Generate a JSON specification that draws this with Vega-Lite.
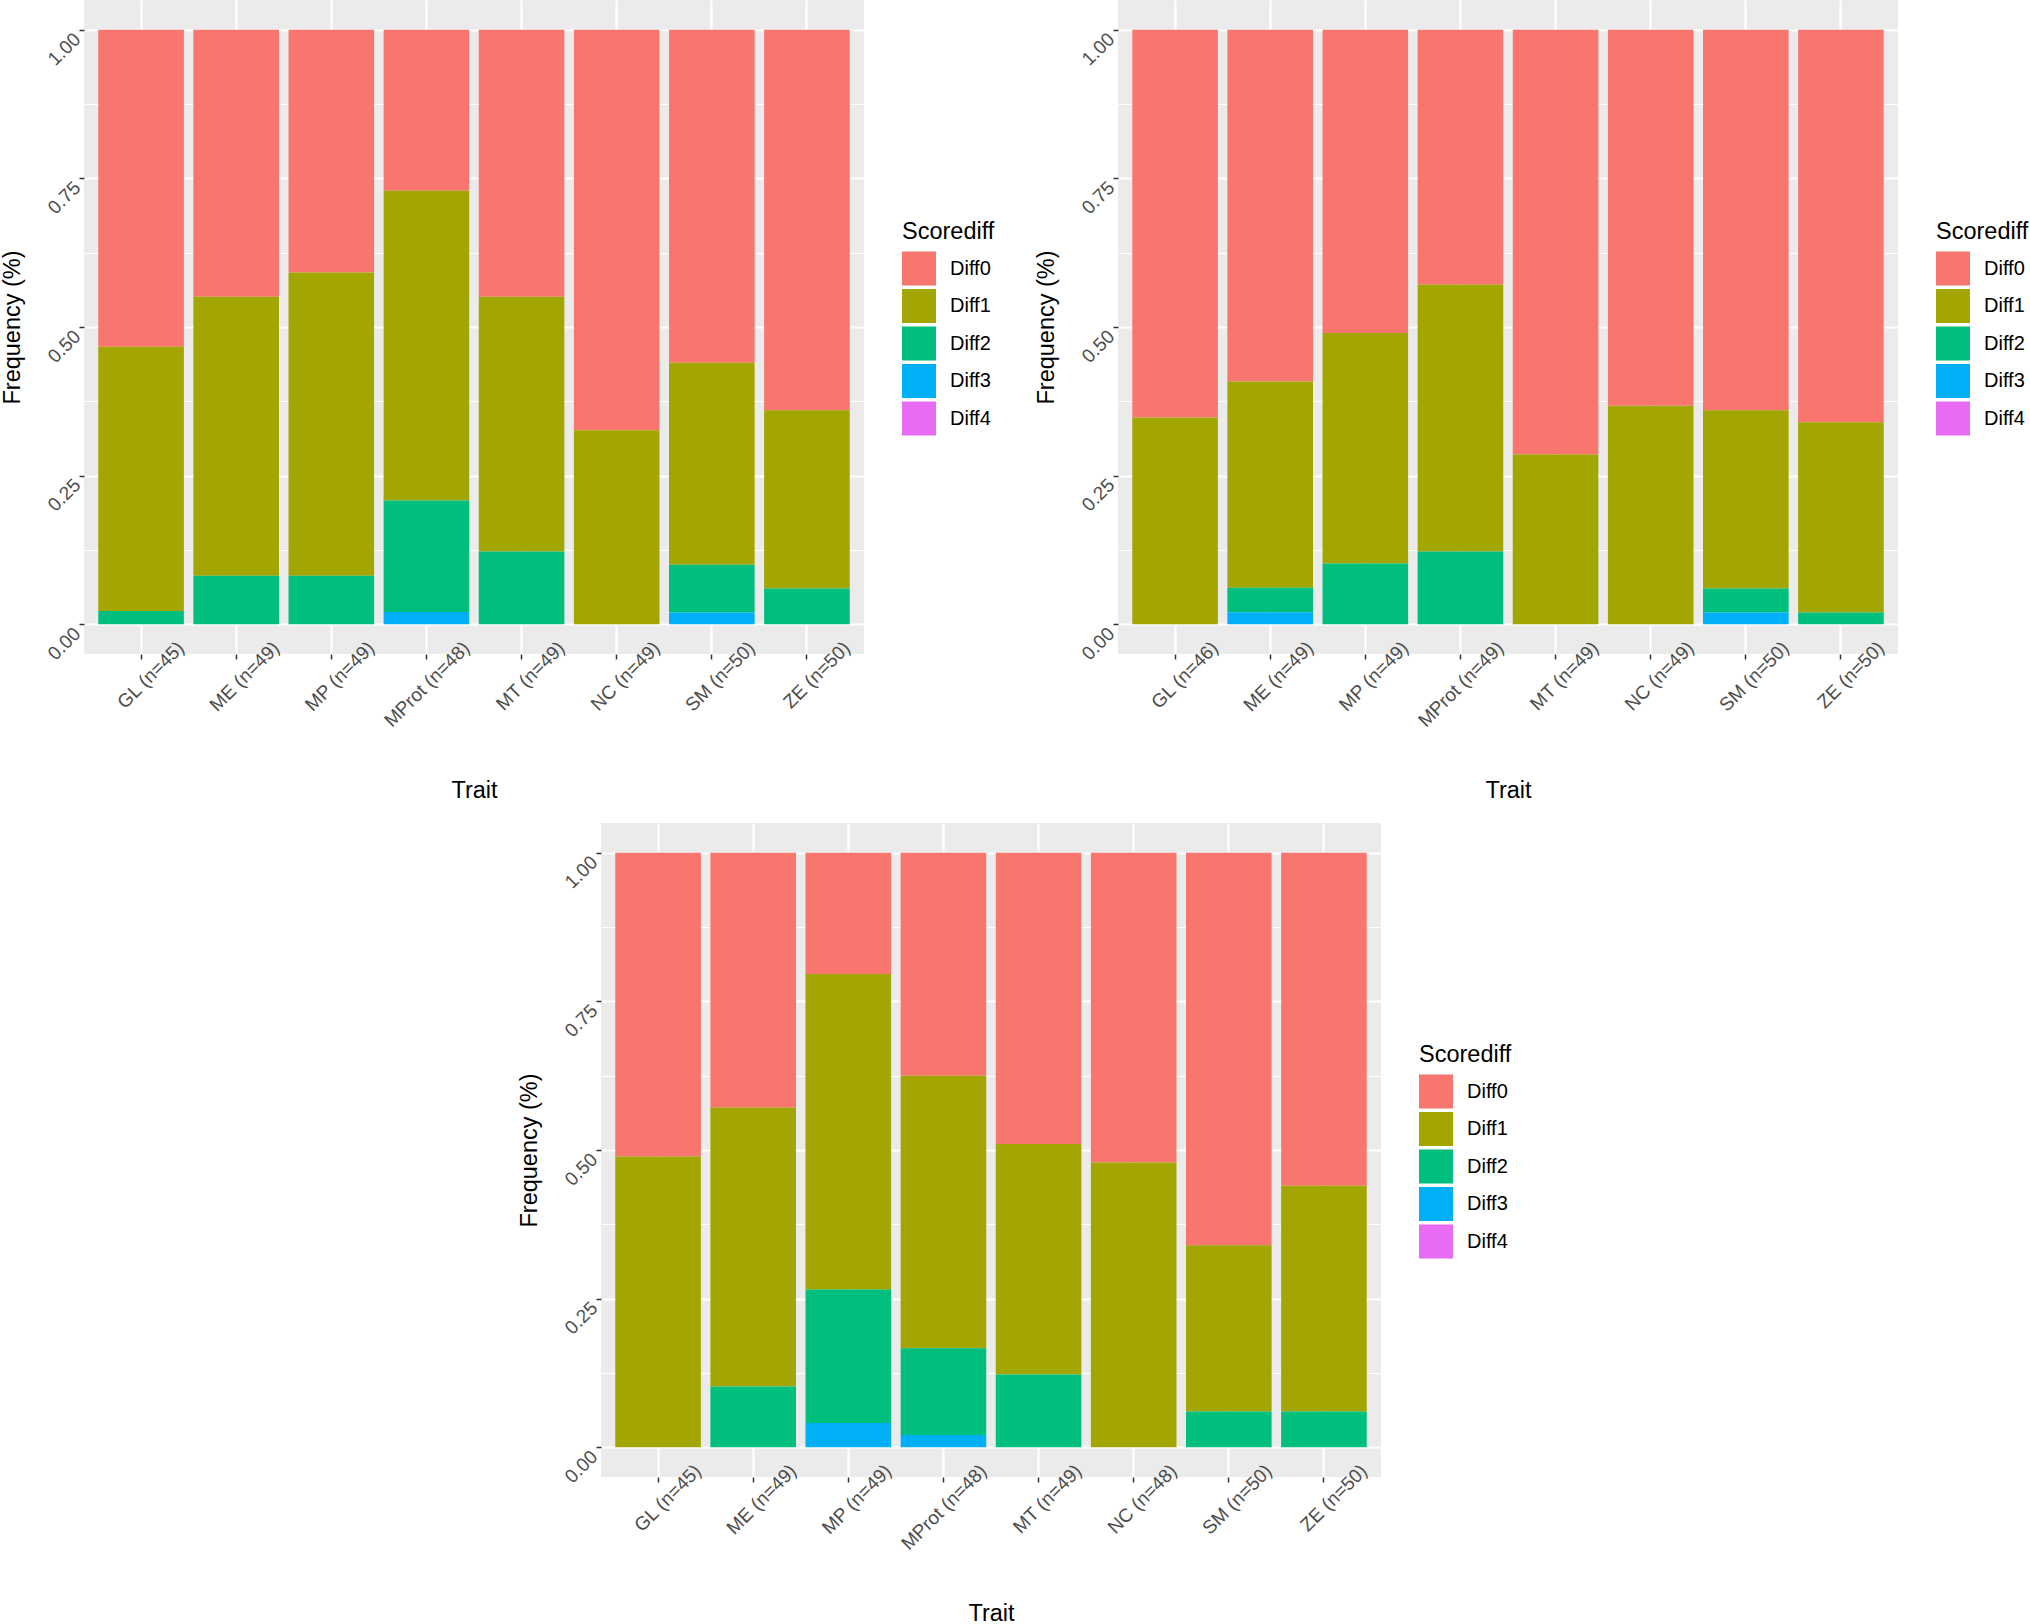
{
  "$schema": "https://vega.github.io/schema/vega-lite/v6.json",
  "background": "white",
  "padding": {"left": 0, "top": 0, "right": 0, "bottom": 0},
  "datasets": {
    "top_left": [
      {"trait": "GL (n=45)", "diff": "Diff0", "count": 24},
      {"trait": "GL (n=45)", "diff": "Diff1", "count": 20},
      {"trait": "GL (n=45)", "diff": "Diff2", "count": 1},
      {"trait": "ME (n=49)", "diff": "Diff0", "count": 22},
      {"trait": "ME (n=49)", "diff": "Diff1", "count": 23},
      {"trait": "ME (n=49)", "diff": "Diff2", "count": 4},
      {"trait": "MP (n=49)", "diff": "Diff0", "count": 20},
      {"trait": "MP (n=49)", "diff": "Diff1", "count": 25},
      {"trait": "MP (n=49)", "diff": "Diff2", "count": 4},
      {"trait": "MProt (n=48)", "diff": "Diff0", "count": 13},
      {"trait": "MProt (n=48)", "diff": "Diff1", "count": 25},
      {"trait": "MProt (n=48)", "diff": "Diff2", "count": 9},
      {"trait": "MProt (n=48)", "diff": "Diff3", "count": 1},
      {"trait": "MT (n=49)", "diff": "Diff0", "count": 22},
      {"trait": "MT (n=49)", "diff": "Diff1", "count": 21},
      {"trait": "MT (n=49)", "diff": "Diff2", "count": 6},
      {"trait": "NC (n=49)", "diff": "Diff0", "count": 33},
      {"trait": "NC (n=49)", "diff": "Diff1", "count": 16},
      {"trait": "SM (n=50)", "diff": "Diff0", "count": 28},
      {"trait": "SM (n=50)", "diff": "Diff1", "count": 17},
      {"trait": "SM (n=50)", "diff": "Diff2", "count": 4},
      {"trait": "SM (n=50)", "diff": "Diff3", "count": 1},
      {"trait": "ZE (n=50)", "diff": "Diff0", "count": 32},
      {"trait": "ZE (n=50)", "diff": "Diff1", "count": 15},
      {"trait": "ZE (n=50)", "diff": "Diff2", "count": 3}
    ],
    "top_right": [
      {"trait": "GL (n=46)", "diff": "Diff0", "count": 30},
      {"trait": "GL (n=46)", "diff": "Diff1", "count": 16},
      {"trait": "ME (n=49)", "diff": "Diff0", "count": 29},
      {"trait": "ME (n=49)", "diff": "Diff1", "count": 17},
      {"trait": "ME (n=49)", "diff": "Diff2", "count": 2},
      {"trait": "ME (n=49)", "diff": "Diff3", "count": 1},
      {"trait": "MP (n=49)", "diff": "Diff0", "count": 25},
      {"trait": "MP (n=49)", "diff": "Diff1", "count": 19},
      {"trait": "MP (n=49)", "diff": "Diff2", "count": 5},
      {"trait": "MProt (n=49)", "diff": "Diff0", "count": 21},
      {"trait": "MProt (n=49)", "diff": "Diff1", "count": 22},
      {"trait": "MProt (n=49)", "diff": "Diff2", "count": 6},
      {"trait": "MT (n=49)", "diff": "Diff0", "count": 35},
      {"trait": "MT (n=49)", "diff": "Diff1", "count": 14},
      {"trait": "NC (n=49)", "diff": "Diff0", "count": 31},
      {"trait": "NC (n=49)", "diff": "Diff1", "count": 18},
      {"trait": "SM (n=50)", "diff": "Diff0", "count": 32},
      {"trait": "SM (n=50)", "diff": "Diff1", "count": 15},
      {"trait": "SM (n=50)", "diff": "Diff2", "count": 2},
      {"trait": "SM (n=50)", "diff": "Diff3", "count": 1},
      {"trait": "ZE (n=50)", "diff": "Diff0", "count": 33},
      {"trait": "ZE (n=50)", "diff": "Diff1", "count": 16},
      {"trait": "ZE (n=50)", "diff": "Diff2", "count": 1}
    ],
    "bottom": [
      {"trait": "GL (n=45)", "diff": "Diff0", "count": 23},
      {"trait": "GL (n=45)", "diff": "Diff1", "count": 22},
      {"trait": "ME (n=49)", "diff": "Diff0", "count": 21},
      {"trait": "ME (n=49)", "diff": "Diff1", "count": 23},
      {"trait": "ME (n=49)", "diff": "Diff2", "count": 5},
      {"trait": "MP (n=49)", "diff": "Diff0", "count": 10},
      {"trait": "MP (n=49)", "diff": "Diff1", "count": 26},
      {"trait": "MP (n=49)", "diff": "Diff2", "count": 11},
      {"trait": "MP (n=49)", "diff": "Diff3", "count": 2},
      {"trait": "MProt (n=48)", "diff": "Diff0", "count": 18},
      {"trait": "MProt (n=48)", "diff": "Diff1", "count": 22},
      {"trait": "MProt (n=48)", "diff": "Diff2", "count": 7},
      {"trait": "MProt (n=48)", "diff": "Diff3", "count": 1},
      {"trait": "MT (n=49)", "diff": "Diff0", "count": 24},
      {"trait": "MT (n=49)", "diff": "Diff1", "count": 19},
      {"trait": "MT (n=49)", "diff": "Diff2", "count": 6},
      {"trait": "NC (n=48)", "diff": "Diff0", "count": 25},
      {"trait": "NC (n=48)", "diff": "Diff1", "count": 23},
      {"trait": "SM (n=50)", "diff": "Diff0", "count": 33},
      {"trait": "SM (n=50)", "diff": "Diff1", "count": 14},
      {"trait": "SM (n=50)", "diff": "Diff2", "count": 3},
      {"trait": "ZE (n=50)", "diff": "Diff0", "count": 28},
      {"trait": "ZE (n=50)", "diff": "Diff1", "count": 19},
      {"trait": "ZE (n=50)", "diff": "Diff2", "count": 3}
    ]
  },
  "vconcat": [
    {
      "hconcat": [
        {
          "data": {"name": "top_left"},
          "width": 780,
          "height": 654,
          "mark": {"type": "bar"},
          "encoding": {
            "x": {"field": "trait", "type": "nominal", "sort": null, "title": "Trait",
                  "scale": {"paddingInner": 0.1, "paddingOuter": 0.15}},
            "y": {"field": "count", "type": "quantitative", "stack": "normalize", "title": "Frequency (%)",
                  "scale": {"domain": [-0.05, 1.05], "nice": false, "zero": false},
                  "axis": {"values": [0, 0.125, 0.25, 0.375, 0.5, 0.625, 0.75, 0.875, 1],
                           "labelExpr": "datum.value % 0.25 == 0 ? format(datum.value, '.2f') : ''",
                           "gridWidth": {"condition": {"test": "datum.value % 0.25 != 0", "value": 1.1}, "value": 2.2},
                           "tickOpacity": {"condition": {"test": "datum.value % 0.25 != 0", "value": 0}, "value": 1}}},
            "color": {"field": "diff", "type": "nominal", "title": "Scorediff",
                      "scale": {"domain": ["Diff0", "Diff1", "Diff2", "Diff3", "Diff4"],
                                "range": ["#F8766D", "#A3A500", "#00BF7D", "#00B0F6", "#E76BF3"]}},
            "order": {"field": "diff", "sort": "descending"}
          }
        },
        {
          "data": {"name": "top_right"},
          "width": 780,
          "height": 654,
          "mark": {"type": "bar"},
          "encoding": {
            "x": {"field": "trait", "type": "nominal", "sort": null, "title": "Trait",
                  "scale": {"paddingInner": 0.1, "paddingOuter": 0.15}},
            "y": {"field": "count", "type": "quantitative", "stack": "normalize", "title": "Frequency (%)",
                  "scale": {"domain": [-0.05, 1.05], "nice": false, "zero": false},
                  "axis": {"values": [0, 0.125, 0.25, 0.375, 0.5, 0.625, 0.75, 0.875, 1],
                           "labelExpr": "datum.value % 0.25 == 0 ? format(datum.value, '.2f') : ''",
                           "gridWidth": {"condition": {"test": "datum.value % 0.25 != 0", "value": 1.1}, "value": 2.2},
                           "tickOpacity": {"condition": {"test": "datum.value % 0.25 != 0", "value": 0}, "value": 1}}},
            "color": {"field": "diff", "type": "nominal", "title": "Scorediff",
                      "scale": {"domain": ["Diff0", "Diff1", "Diff2", "Diff3", "Diff4"],
                                "range": ["#F8766D", "#A3A500", "#00BF7D", "#00B0F6", "#E76BF3"]}},
            "order": {"field": "diff", "sort": "descending"}
          }
        }
      ],
      "spacing": 39,
      "resolve": {"scale": {"color": "independent"}, "legend": {"color": "independent"}}
    },
    {
      "data": {"name": "bottom"},
      "width": 780,
      "height": 654,
      "mark": {"type": "bar"},
      "encoding": {
        "x": {"field": "trait", "type": "nominal", "sort": null, "title": "Trait",
              "scale": {"paddingInner": 0.1, "paddingOuter": 0.15}},
        "y": {"field": "count", "type": "quantitative", "stack": "normalize", "title": "Frequency (%)",
              "scale": {"domain": [-0.05, 1.05], "nice": false, "zero": false},
              "axis": {"values": [0, 0.125, 0.25, 0.375, 0.5, 0.625, 0.75, 0.875, 1],
                       "labelExpr": "datum.value % 0.25 == 0 ? format(datum.value, '.2f') : ''",
                       "gridWidth": {"condition": {"test": "datum.value % 0.25 != 0", "value": 1.1}, "value": 2.2},
                       "tickOpacity": {"condition": {"test": "datum.value % 0.25 != 0", "value": 0}, "value": 1}}},
        "color": {"field": "diff", "type": "nominal", "title": "Scorediff",
                  "scale": {"domain": ["Diff0", "Diff1", "Diff2", "Diff3", "Diff4"],
                            "range": ["#F8766D", "#A3A500", "#00BF7D", "#00B0F6", "#E76BF3"]}},
        "order": {"field": "diff", "sort": "descending"}
      }
    }
  ],
  "spacing": 21,
  "center": true,
  "resolve": {"scale": {"color": "independent"}, "legend": {"color": "independent"}},
  "config": {
    "font": "Liberation Sans",
    "view": {"fill": "#EBEBEB", "stroke": null},
    "axis": {
      "domain": false,
      "grid": true,
      "gridColor": "white",
      "tickColor": "#333333",
      "tickWidth": 1.5,
      "tickSize": 5,
      "labelColor": "#4D4D4D",
      "labelFontSize": 19,
      "labelAngle": -45,
      "labelAlign": "right",
      "labelBaseline": "middle",
      "labelOverlap": false,
      "labelBound": false,
      "labelFlush": false,
      "titleFontSize": 23.5,
      "titleFontWeight": "normal",
      "titleColor": "black",
      "titleBaseline": "alphabetic"
    },
    "axisX": {"gridWidth": 2.2, "bandPosition": 0.5, "labelOffset": 40, "labelPadding": -14.4, "titleY": 143},
    "axisY": {"labelPadding": 2, "labelOffset": 6, "titleX": -65, "titleAngle": -90},
    "legend": {
      "orient": "none",
      "legendX": 818,
      "legendY": 220,
      "padding": 0,
      "titleFontSize": 23.5,
      "titleFontWeight": "normal",
      "titleColor": "black",
      "titlePadding": 8,
      "labelFontSize": 20,
      "labelColor": "black",
      "labelOffset": 14,
      "symbolType": "square",
      "symbolSize": 1156,
      "symbolStrokeWidth": 0,
      "symbolOpacity": 1,
      "rowPadding": 3.5
    }
  }
}
